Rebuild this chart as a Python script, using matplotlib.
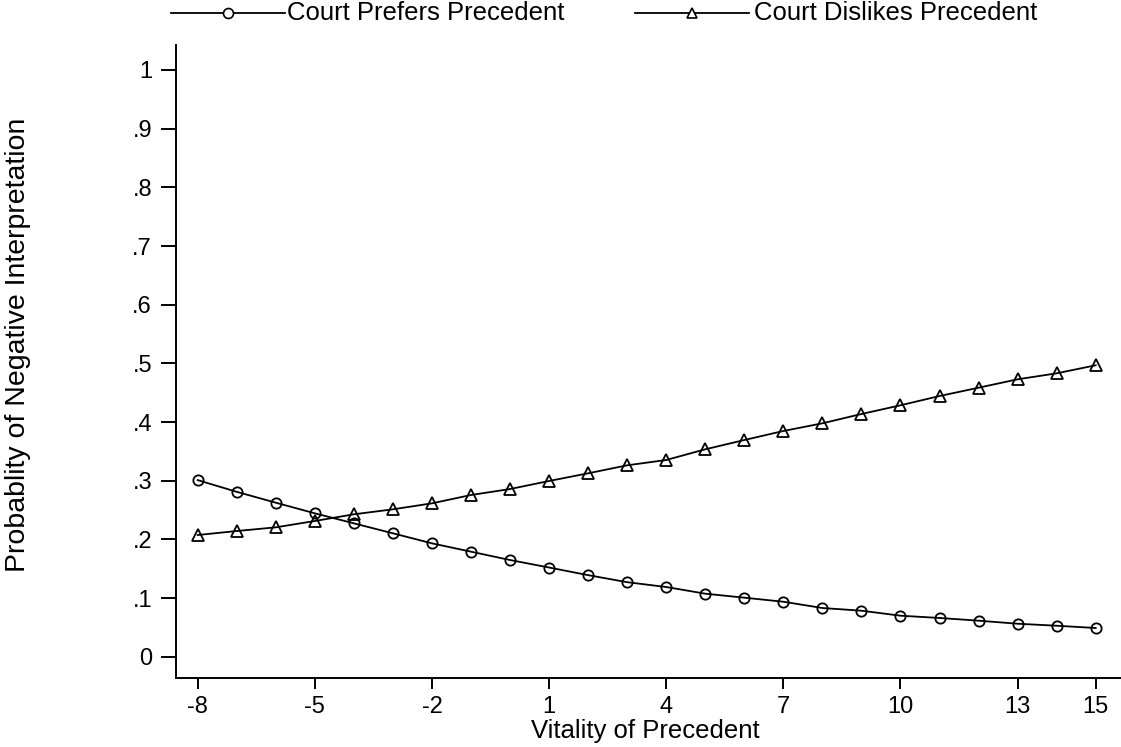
import matplotlib
matplotlib.use("Agg")
import matplotlib.pyplot as plt
from matplotlib.lines import Line2D

plt.rcParams['font.family'] = ['Liberation Sans', 'DejaVu Sans']

vitality = list(range(-8, 16))
prefers = [0.301, 0.281, 0.2625, 0.2444, 0.2273, 0.2103, 0.1932, 0.179, 0.1648,
           0.152, 0.139, 0.127, 0.1188, 0.1074, 0.1006, 0.0937, 0.083, 0.0784,
           0.0699, 0.066, 0.0614, 0.0562, 0.0528, 0.0489]
dislikes = [0.2074, 0.2142, 0.2205, 0.2313, 0.2427, 0.2512, 0.2614, 0.2756, 0.2858,
            0.2995, 0.3126, 0.3262, 0.3353, 0.3535, 0.3693, 0.3847, 0.3978, 0.4137,
            0.4285, 0.4443, 0.4585, 0.4728, 0.483, 0.4967]
xticks = [-8, -5, -2, 1, 4, 7, 10, 13, 15]
yticks = [0, .1, .2, .3, .4, .5, .6, .7, .8, .9, 1]
ytick_labels = ["0", ".1", ".2", ".3", ".4", ".5", ".6", ".7", ".8", ".9", "1"]
series_labels = ["Court Prefers Precedent", "Court Dislikes Precedent"]

W, H = 1121, 747
fig = plt.figure(figsize=(W / 100, H / 100), dpi=100)
ax_l, ax_r, ax_t, ax_b = 175.7, 1121, 45, 678.3
ax = fig.add_axes([ax_l / W, 1 - ax_b / H, (ax_r - ax_l) / W, (ax_b - ax_t) / H])

fs_xtick = 17
fs_ytick = 17
fs_leg = 18.5
fs_xtitle = 18.5
fs_ytitle = 20.5
lw = 1.3
ax.plot(vitality, prefers, color='black', lw=lw, marker='o', ms=7.4,
        mfc='none', mec='black', mew=1.3)
ax.plot(vitality, dislikes, color='black', lw=lw, marker='^', ms=8.4,
        mfc='none', mec='black', mew=1.3)

# axis ranges from pixel geometry
x_per = (1095.7 - 197.7) / 23.0
ax.set_xlim(-8 - (197.7 - ax_l) / x_per, 15 + (ax_r - 1095.7) / x_per)
y_per = (656.7 - 70.0)
ax.set_ylim(-(ax_b - 656.7) / y_per, (656.7 - ax_t) / y_per)

for s in ['top', 'right']:
    ax.spines[s].set_visible(False)
for s in ['left', 'bottom']:
    ax.spines[s].set_linewidth(1.4)

ax.set_xticks(xticks)
ax.set_xticklabels([str(t) for t in xticks], fontsize=fs_xtick)
ax.set_yticks(yticks)
ax.set_yticklabels(ytick_labels, fontsize=fs_ytick)
ax.tick_params(axis='both', direction='out', width=1.4, color='black')
ax.tick_params(axis='y', length=11, pad=6)
ax.tick_params(axis='x', length=8, pad=5)

ax.set_xlabel("Vitality of Precedent", fontsize=fs_xtitle)
ax.xaxis.set_label_coords((645 - ax_l) / (ax_r - ax_l), (ax_b - 731) / (ax_b - ax_t))
ax.xaxis.label.set_va('center')
ax.set_ylabel("Probablity of Negative Interpretation", fontsize=fs_ytitle)
ax.yaxis.set_label_coords((18 - ax_l) / (ax_r - ax_l), (ax_b - 345) / (ax_b - ax_t))
ax.yaxis.label.set_va('center')

# legend (manual, in figure pixel coordinates)
def fx(px):
    return px / W

def fy(py):
    return 1 - py / H

ly = 13
legend_specs = [
    (171, 285, 228, 'o', 7.2, 287),
    (635, 749, 692, '^', 7.0, 754),
]
for (x0, x1, xm, mk, ms, xt), lab in zip(legend_specs, series_labels):
    fig.add_artist(Line2D([fx(x0), fx(x1)], [fy(ly), fy(ly)], color='black', lw=lw,
                          transform=fig.transFigure))
    fig.add_artist(Line2D([fx(xm)], [fy(ly)], marker=mk, ms=ms, mfc='white',
                          mec='black', mew=1.2, transform=fig.transFigure, lw=0))
    fig.text(fx(xt), fy(ly), lab, fontsize=fs_leg, va='center', ha='left')

fig.savefig("out.png", dpi=100)
